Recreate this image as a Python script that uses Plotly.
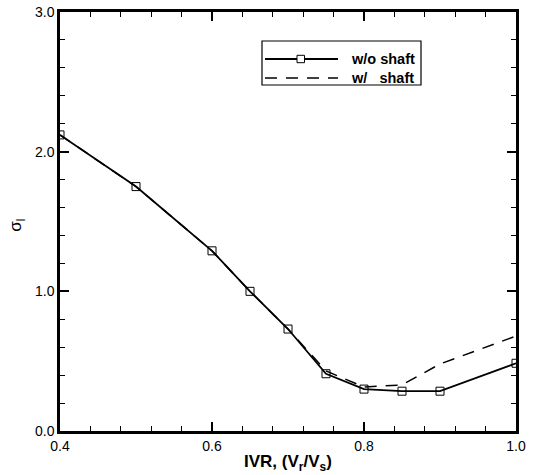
import plotly.graph_objects as go

# Inlet velocity ratio and loss coefficient for the two configurations
ivr = [0.4, 0.5, 0.6, 0.65, 0.7, 0.75, 0.8, 0.85, 0.9, 1.0]
sigma_no_shaft = [2.12, 1.75, 1.29, 1.00, 0.73, 0.41, 0.30, 0.285, 0.285, 0.485]
sigma_shaft = [2.12, 1.75, 1.29, 1.00, 0.73, 0.43, 0.315, 0.33, 0.48, 0.68]
series_names = ["w/o shaft", "w/   shaft"]

x_ticks = [0.4, 0.6, 0.8, 1.0]
x_tick_labels = ["0.4", "0.6", "0.8", "1.0"]
y_ticks = [0.0, 1.0, 2.0, 3.0]
y_tick_labels = ["0.0", "1.0", "2.0", "3.0"]

FONT = "Liberation Sans, Arial, Helvetica, sans-serif"
W, H = 535, 475
M = dict(l=60, r=19, t=12, b=44)
PW, PH = W - M["l"] - M["r"], H - M["t"] - M["b"]

SOLID = dict(color="black", width=1.8)
DASHED = dict(color="black", width=1.5, dash="12px,9px")

fig = go.Figure()

fig.add_trace(go.Scatter(
    x=ivr, y=sigma_no_shaft, name=series_names[0], showlegend=False,
    mode="lines+markers", line=SOLID,
    marker=dict(symbol="square-open", size=8, color="black", line=dict(width=1)),
))
fig.add_trace(go.Scatter(
    x=ivr, y=sigma_shaft, name=series_names[1], showlegend=False,
    mode="lines", line=DASHED,
))

axis_common = dict(
    showgrid=False, zeroline=False, automargin=False,
    showline=True, linecolor="black", linewidth=2.5,
    mirror="ticks", ticks="inside", ticklen=9, tickwidth=1.5, tickcolor="black",
    tickfont=dict(family=FONT, size=14, color="black"),
)

fig.update_xaxes(
    range=[0.4, 1.0], tickmode="array", tickvals=x_ticks, ticktext=x_tick_labels,
    minor=dict(dtick=0.04, tick0=0.4, ticks="inside", ticklen=5, tickwidth=1, tickcolor="black"),
    **axis_common,
)
fig.update_yaxes(
    range=[0.0, 3.0], tickmode="array", tickvals=y_ticks, ticktext=y_tick_labels,
    minor=dict(dtick=0.2, tick0=0.0, ticks="inside", ticklen=5, tickwidth=1, tickcolor="black"),
    **axis_common,
)

# Axis titles
fig.add_annotation(
    text="<b>IVR, (V<sub>r</sub>/V<sub>s</sub>)</b>",
    xref="paper", yref="paper", x=0.5, y=0, xanchor="center", yanchor="middle",
    yshift=-32, showarrow=False,
    font=dict(family=FONT, size=17, color="black"),
)
fig.add_annotation(
    text="σ<sub>l</sub>",
    xref="paper", yref="paper", x=0, y=0.49, xanchor="center", yanchor="middle",
    xshift=-43, textangle=-90, showarrow=False,
    font=dict(family=FONT, size=17, color="black"),
)


# Boxed key drawn in paper coordinates (pixel offsets converted to paper units)
def px(x):
    return (x - M["l"]) / PW


def py(y):
    return (H - M["b"] - y) / PH


box = dict(x0=262, x1=421, y0=41, y1=85)
rows = [59, 78]
fig.add_shape(type="rect", xref="paper", yref="paper",
              x0=px(box["x0"]), x1=px(box["x1"]), y0=py(box["y1"]), y1=py(box["y0"]),
              line=dict(color="black", width=1.2), fillcolor="white", layer="above")
for row, style in zip(rows, [SOLID, DASHED]):
    fig.add_shape(type="line", xref="paper", yref="paper",
                  x0=px(265), x1=px(338), y0=py(row), y1=py(row),
                  line=style, layer="above")
# open-square symbol on the solid sample
fig.add_shape(type="rect", xref="paper", yref="paper",
              x0=px(297), x1=px(304.5), y0=py(rows[0] + 3.7), y1=py(rows[0] - 3.7),
              line=dict(color="black", width=1), fillcolor="white", layer="above")
for row, name in zip(rows, series_names):
    fig.add_annotation(
        text=f"<b>{name.replace(' ', '&nbsp;')}</b>",
        xref="paper", yref="paper", x=px(349), y=py(row),
        xanchor="left", yanchor="middle", showarrow=False,
        font=dict(family=FONT, size=14.5, color="black"),
    )

fig.update_layout(
    width=W, height=H, margin=M,
    paper_bgcolor="white", plot_bgcolor="white",
    showlegend=False,
)

fig.write_html("out.html")
